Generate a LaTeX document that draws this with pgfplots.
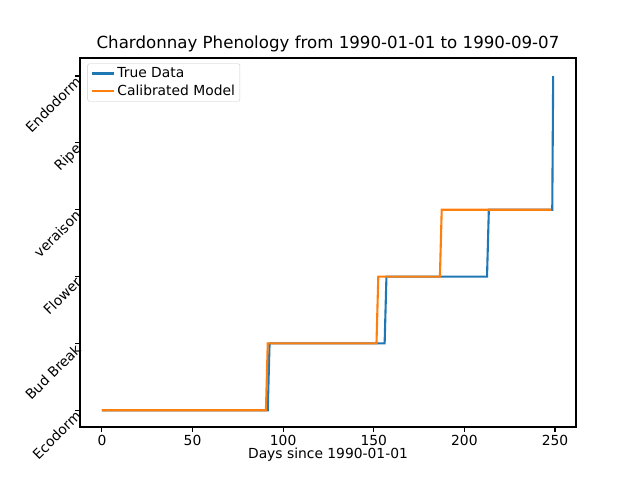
\documentclass[border=0pt]{standalone}
\usepackage{pgfplots}
\pgfplotsset{compat=1.18}
\usepackage{fontspec}
\setmainfont{DejaVu Sans}
\begin{document}
\begin{tikzpicture}
\definecolor{tb}{RGB}{31,119,180}
\definecolor{to}{RGB}{255,127,14}
\begin{axis}[name=ax, at={(0,0)}, anchor=south west,
  scale only axis, width=496bp, height=369bp,
  xmin=-12.1, xmax=261.6, ymin=-0.25, ymax=5.27,
  xtick={0,50,100,150,200,250},
  ytick={0,1,2,3,4,5},
  yticklabels={Ecodorm,Bud Break,Flower,veraison,Ripe,Endodorm},
  yticklabel style={rotate=45, anchor=north east, inner sep=2pt, xshift=2bp, yshift=3bp},
  tick style={black, line width=1.1bp}, tick align=outside, major tick length=4.9bp,
  axis line style={line width=1.1bp},
  xtick pos=bottom, ytick pos=left,
  ticklabel style={font=\fontsize{13.9}{16}\selectfont},
  /pgf/number format/assume math mode=true,
  xlabel={Days since 1990-01-01},
  xlabel style={font=\fontsize{13.9}{16}\selectfont, yshift=5bp},
  title={Chardonnay Phenology from 1990-01-01 to 1990-09-07},
  title style={font=\fontsize{16.7}{19}\selectfont, yshift=-3bp},
  legend pos=north west,
  legend style={font=\fontsize{13.9}{16}\selectfont, draw=black!20, rounded corners=2pt, row sep=2pt, at={(0.015,0.985)}},
  legend cell align=left,
  legend image code/.code={\draw[#1] (0cm,0cm) -- (0.8cm,0cm);},
]
\addplot[color=tb, line width=2.1bp] coordinates {
(0,0) (91.5,0) (92.5,1) (156,1) (157,2) (212.5,2) (213.5,3) (248.5,3) (249,5)};
\addlegendentry{True Data}
\addplot[color=to, line width=2.1bp] coordinates {
(0,0) (90.5,0) (91.5,1) (151.5,1) (152.5,2) (186.5,2) (187.5,3) (248,3)};
\addlegendentry{Calibrated Model}
\end{axis}
\path (ax.south west) ++(-80bp,-53bp) rectangle ++(640bp,480bp);
\end{tikzpicture}
\end{document}
